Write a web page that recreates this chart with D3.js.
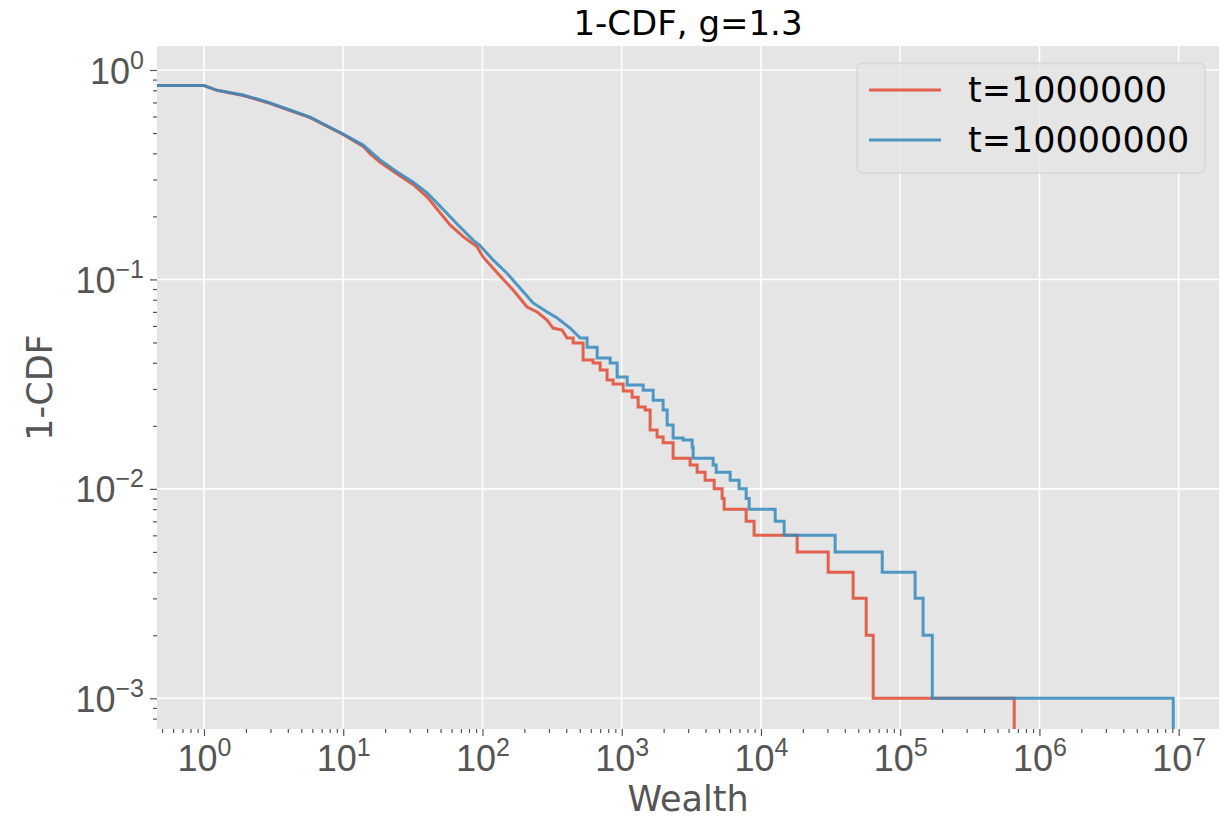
<!DOCTYPE html>
<html>
<head>
<meta charset="utf-8">
<script src="https://cdnjs.cloudflare.com/ajax/libs/d3/7.8.5/d3.min.js"></script>
<style>
    body { margin: 0; background: #fff; }
    svg { display: block; font-family: "DejaVu Sans", sans-serif; }
</style>
</head>
<body>
<figure id="chart" style="margin:0"></figure>
<script>
// series labels
const seriesLabels = ["t=1000000", "t=10000000"];

// smooth upper part of each curve (wealth, 1-CDF)
const redBodyWealth = [0.3, 1, 1.24, 1.91, 2.84, 4.15, 5.78, 9.97, 13.9, 15.6, 18.4, 25.6, 31.7, 40.0, 49.6, 58.5, 72.6, 91.5, 101, 127, 166, 209, 247, 291, 321, 373, 405];
const redBodyCdf = [0.845, 0.843, 0.80, 0.755, 0.70, 0.64, 0.592, 0.492, 0.432, 0.397, 0.362, 0.312, 0.284, 0.248, 0.208, 0.182, 0.16, 0.143, 0.128, 0.108, 0.089, 0.0738, 0.0699, 0.064, 0.0586, 0.0573, 0.0525];
const blueBodyWealth = [0.3, 1, 1.24, 1.91, 2.84, 4.15, 5.78, 9.97, 13.9, 18.4, 24.4, 31.7, 40.0, 49.6, 65.7, 85.6, 96.1, 119, 150, 186, 231, 291, 344, 426, 503];
const blueBodyCdf = [0.845, 0.843, 0.80, 0.76, 0.703, 0.644, 0.596, 0.495, 0.438, 0.372, 0.326, 0.292, 0.259, 0.224, 0.184, 0.154, 0.145, 0.124, 0.107, 0.091, 0.0772, 0.0699, 0.0654, 0.0586, 0.0525];

// stepped tail: wealth where 1-CDF drops, and the new value
const redTailWealth = [448, 528, 623, 700, 785, 867, 1024, 1188, 1312, 1473, 1600, 1795, 1983, 2340, 3100, 3480, 3970, 4615, 5260, 5440, 7830, 8930, 18200, 30400, 45900, 57000, 64000, 659000];
const redTailCdf = [0.0497, 0.0412, 0.0399, 0.0369, 0.0331, 0.0317, 0.0293, 0.0274, 0.0246, 0.0238, 0.0191, 0.0177, 0.0166, 0.014, 0.013, 0.012, 0.011, 0.010, 0.009, 0.008, 0.007, 0.006, 0.005, 0.004, 0.003, 0.002, 0.001, 0];
const blueTailWealth = [564, 666, 826, 927, 1094, 1426, 1683, 1983, 2119, 2340, 2761, 3206, 3258, 4535, 4770, 6010, 6970, 7830, 8230, 12650, 14680, 34100, 74300, 128000, 146000, 170000, 9140000];
const blueTailCdf = [0.0475, 0.0421, 0.0399, 0.0342, 0.0313, 0.0296, 0.0265, 0.0238, 0.0202, 0.0175, 0.0171, 0.0158, 0.014, 0.013, 0.012, 0.011, 0.010, 0.009, 0.008, 0.007, 0.006, 0.005, 0.004, 0.003, 0.002, 0.001, 0];

// tick exponents
const xTickExp = [0, 1, 2, 3, 4, 5, 6, 7];
const yTickExp = [0, -1, -2, -3];

const colors = ["#E24A33", "#348ABD"];

let dimensions = {
    width: 1223,
    height: 819,
    margin: { top: 46, right: 4, bottom: 90, left: 157 },
};
dimensions.boundedWidth = dimensions.width - dimensions.margin.left - dimensions.margin.right;
dimensions.boundedHeight = dimensions.height - dimensions.margin.top - dimensions.margin.bottom;

const root = d3.select("figure#chart")
    .append("svg")
    .attr("width", dimensions.width)
    .attr("height", dimensions.height);

const svg = root.append("g")
    .attr("transform", `translate(${dimensions.margin.left}, ${dimensions.margin.top})`);

const xScale = d3.scaleLog()
    .domain([Math.pow(10, -0.3375), Math.pow(10, 7.2896)])
    .range([0, dimensions.boundedWidth]);

const yScale = d3.scaleLog()
    .domain([Math.pow(10, -3.1466), Math.pow(10, 0.1146)])
    .range([dimensions.boundedHeight, 0]);

// background
svg.append("rect")
    .attr("width", dimensions.boundedWidth)
    .attr("height", dimensions.boundedHeight)
    .attr("fill", "#E5E5E5");

svg.append("clipPath").attr("id", "clip")
    .append("rect")
    .attr("width", dimensions.boundedWidth)
    .attr("height", dimensions.boundedHeight);

// minor tick values
const minorX = [];
for (let e = -1; e <= 7; e++) for (let m = 2; m <= 9; m++) minorX.push(m * Math.pow(10, e));
const minorY = [];
for (let e = -4; e <= 0; e++) for (let m = 2; m <= 9; m++) minorY.push(m * Math.pow(10, e));
const inX = v => v >= xScale.domain()[0] && v <= xScale.domain()[1];
const inY = v => v >= yScale.domain()[0] && v <= yScale.domain()[1];

// grid
svg.append("g").selectAll("line")
    .data(xTickExp.map(e => Math.pow(10, e)))
    .join("line")
    .attr("x1", d => xScale(d)).attr("x2", d => xScale(d))
    .attr("y1", 0).attr("y2", dimensions.boundedHeight)
    .attr("stroke", "#fff").attr("stroke-width", 1.6);
svg.append("g").selectAll("line")
    .data(yTickExp.map(e => Math.pow(10, e)))
    .join("line")
    .attr("y1", d => yScale(d)).attr("y2", d => yScale(d))
    .attr("x1", 0).attr("x2", dimensions.boundedWidth)
    .attr("stroke", "#fff").attr("stroke-width", 1.6);

// axes
const xAxis = svg.append("g")
    .attr("transform", `translate(0, ${dimensions.boundedHeight})`)
    .call(d3.axisBottom(xScale).tickValues(xTickExp.map(e => Math.pow(10, e))).tickSize(7).tickFormat(""));
const xMinor = svg.append("g")
    .attr("transform", `translate(0, ${dimensions.boundedHeight})`)
    .call(d3.axisBottom(xScale).tickValues(minorX.filter(inX)).tickSize(4).tickFormat(""));
const yAxis = svg.append("g")
    .call(d3.axisLeft(yScale).tickValues(yTickExp.map(e => Math.pow(10, e))).tickSize(7).tickFormat(""));
const yMinor = svg.append("g")
    .call(d3.axisLeft(yScale).tickValues(minorY.filter(inY)).tickSize(4).tickFormat(""));

[xAxis, xMinor, yAxis, yMinor].forEach(a => {
    a.select(".domain").remove();
    a.selectAll("line").attr("stroke", "#555").attr("stroke-width", 1.2);
});

xAxis.selectAll(".tick").each(function(d, i) {
    const t = d3.select(this).select("text")
        .attr("y", 42)
        .attr("dy", null)
        .attr("fill", "#555")
        .attr("font-size", 36)
        .attr("text-anchor", "middle");
    t.append("tspan").text("10");
    t.append("tspan").attr("dy", -15).attr("font-size", 25).text(xTickExp[i]);
});

yAxis.selectAll(".tick").each(function(d, i) {
    const t = d3.select(this).select("text")
        .attr("x", -13)
        .attr("y", 13)
        .attr("dy", null)
        .attr("fill", "#555")
        .attr("font-size", 36)
        .attr("text-anchor", "end");
    t.append("tspan").text("10");
    t.append("tspan").attr("dy", -15).attr("font-size", 25)
        .text(yTickExp[i] < 0 ? "\u2212" + (-yTickExp[i]) : yTickExp[i]);
});

// build each series: smooth body then a stepped tail
function buildPoints(bw, bc, tw, tc) {
    const pts = bw.map((w, i) => [w, bc[i]]);
    let last = bc[bc.length - 1];
    tw.forEach((w, i) => {
        pts.push([w, last]);
        pts.push([w, tc[i]]);
        last = tc[i];
    });
    return pts;
}

const series = [
    buildPoints(redBodyWealth, redBodyCdf, redTailWealth, redTailCdf),
    buildPoints(blueBodyWealth, blueBodyCdf, blueTailWealth, blueTailCdf),
];

const line = d3.line()
    .x(d => xScale(d[0]))
    .y(d => d[1] > 0 ? yScale(d[1]) : dimensions.boundedHeight + 20);

svg.append("g")
    .attr("clip-path", "url(#clip)")
    .selectAll("path")
    .data(series)
    .join("path")
    .attr("d", line)
    .attr("fill", "none")
    .attr("stroke", (d, i) => colors[i])
    .attr("stroke-width", 3)
    .attr("stroke-opacity", 0.85)
    .attr("stroke-linejoin", "miter");

// title and axis labels
root.append("text")
    .attr("x", dimensions.margin.left + dimensions.boundedWidth / 2)
    .attr("y", 35)
    .attr("text-anchor", "middle")
    .attr("font-size", 34)
    .attr("fill", "#000")
    .text("1-CDF, g=1.3");

root.append("text")
    .attr("x", dimensions.margin.left + dimensions.boundedWidth / 2)
    .attr("y", 811)
    .attr("text-anchor", "middle")
    .attr("font-size", 35)
    .attr("fill", "#555")
    .text("Wealth");

root.append("text")
    .attr("transform", `translate(52, ${dimensions.margin.top + dimensions.boundedHeight / 2}) rotate(-90)`)
    .attr("text-anchor", "middle")
    .attr("font-size", 35)
    .attr("fill", "#555")
    .text("1-CDF");

// legend
const legend = root.append("g").attr("transform", "translate(857, 63)");
legend.append("rect")
    .attr("width", 348).attr("height", 110)
    .attr("rx", 6)
    .attr("fill", "#E5E5E5").attr("fill-opacity", 0.8)
    .attr("stroke", "#d0d0d0").attr("stroke-width", 1);
seriesLabels.forEach((lab, i) => {
    const g = legend.append("g").attr("transform", `translate(0, ${27 + i * 50})`);
    g.append("line")
        .attr("x1", 12).attr("x2", 84)
        .attr("stroke", colors[i]).attr("stroke-width", 3).attr("stroke-opacity", 0.85);
    g.append("text")
        .attr("x", 111).attr("y", 12)
        .attr("font-size", 35)
        .attr("fill", "#000")
        .text(lab);
});
</script>
</body>
</html>
